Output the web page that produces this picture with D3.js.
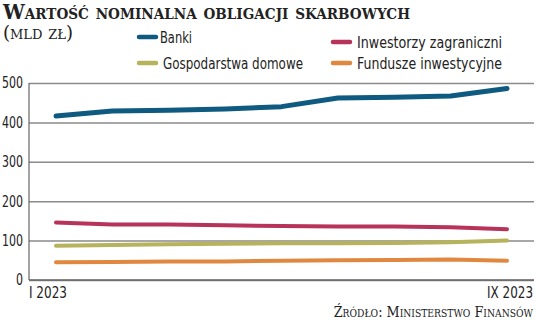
<!DOCTYPE html>
<html>
<head>
<meta charset="utf-8">
<script src="https://cdn.jsdelivr.net/npm/d3@7"></script>
<style>
  html, body { margin: 0; padding: 0; background: #fff; }
  svg { display: block; }
  .serif { font-family: "DejaVu Serif", "Liberation Serif", serif; font-variant: small-caps; }
  .cond { font-family: "DejaVu Sans Condensed", "Liberation Sans Narrow", sans-serif; }
</style>
</head>
<body>
<svg id="chart" width="536" height="322"></svg>
<script>
// Months January..September 2023
const months = ["I", "II", "III", "IV", "V", "VI", "VII", "VIII", "IX"];
const banki = [416, 429, 431, 434, 440, 462, 464, 467, 486];
const inwestorzy = [146, 141, 141, 139, 137, 136, 136, 134, 129];
const gospodarstwa = [87, 89, 91, 92, 93, 93, 94, 96, 100];
const fundusze = [45, 46, 47, 47, 49, 50, 51, 52, 49];
const yTicks = [0, 100, 200, 300, 400, 500];
const xLabels = ["I 2023", "IX 2023"];

const seriesNames = ["Banki", "Inwestorzy zagraniczni", "Gospodarstwa domowe", "Fundusze inwestycyjne"];
const seriesColors = ["#0f5a80", "#b8335a", "#b6b35c", "#e0883f"];
const seriesData = [banki, inwestorzy, gospodarstwa, fundusze];

const svg = d3.select("#chart");
const plot = { left: 29, right: 534, top: 83, bottom: 280 };

const x = d3.scalePoint().domain(months).range([56, 507]);
const y = d3.scaleLinear().domain([0, 500]).range([plot.bottom, plot.top]);

// Right-aligned text squeezed horizontally to a given width
function squeezedRight(xr, yb, width, cls, size, str) {
  const g = svg.append("g");
  const t = g.append("text").attr("class", cls)
    .attr("font-size", size).attr("fill", "#222")
    .attr("text-anchor", "end").text(str);
  const natural = t.node().getComputedTextLength();
  g.attr("transform", `translate(${xr},${yb}) scale(${width / natural},1)`);
  return t;
}

// Title and unit
svg.append("text").attr("class", "serif")
  .attr("x", 3).attr("y", 19)
  .attr("font-size", 20).attr("font-weight", "bold").attr("fill", "#222")
  .attr("textLength", 407).attr("lengthAdjust", "spacingAndGlyphs")
  .text("Wartość nominalna obligacji skarbowych");
svg.append("text").attr("class", "serif")
  .attr("x", 3).attr("y", 39)
  .attr("font-size", 18).attr("fill", "#222")
  .attr("textLength", 70).attr("lengthAdjust", "spacingAndGlyphs")
  .text("(mld zł)");

// Legend
const legendPos = [
  { sx: 139, sy: 37, tx: 160, w: 32 },
  { sx: 333, sy: 42, tx: 357, w: 145 },
  { sx: 139, sy: 63, tx: 163, w: 140 },
  { sx: 333, sy: 63, tx: 357, w: 145 }
];
seriesNames.forEach((name, i) => {
  const p = legendPos[i];
  svg.append("line")
    .attr("x1", p.sx).attr("x2", p.sx + 17)
    .attr("y1", p.sy).attr("y2", p.sy)
    .attr("stroke", seriesColors[i]).attr("stroke-width", 4.5)
    .attr("stroke-linecap", "round");
  svg.append("text").attr("class", "cond")
    .attr("x", p.tx).attr("y", p.sy + 6)
    .attr("font-size", 16.5).attr("fill", "#222")
    .attr("textLength", p.w).attr("lengthAdjust", "spacingAndGlyphs")
    .text(name);
});

// Gridlines and y axis
const yAxis = d3.axisLeft(y).tickValues(yTicks).tickSize(plot.left - plot.right).tickPadding(6);
const gy = svg.append("g").attr("transform", `translate(${plot.left},0)`).call(yAxis);
gy.select(".domain").remove();
gy.selectAll(".tick line").attr("stroke", "#8a8a8a").attr("stroke-width", 1.5);
gy.selectAll(".tick text")
  .attr("class", "cond").attr("font-size", 15).attr("fill", "#222")
  .attr("x", -6).attr("text-anchor", "end")
  .attr("textLength", d => d === 0 ? 7 : 21).attr("lengthAdjust", "spacingAndGlyphs");

// Axis lines
svg.append("line").attr("x1", plot.left).attr("x2", plot.left).attr("y1", plot.top).attr("y2", plot.bottom)
  .attr("stroke", "#666").attr("stroke-width", 1.2);
svg.append("line").attr("x1", plot.left).attr("x2", plot.right).attr("y1", plot.bottom).attr("y2", plot.bottom)
  .attr("stroke", "#666").attr("stroke-width", 1.5);

// Lines
const line = d3.line().x((d, i) => x(months[i])).y(d => y(d));
seriesData.forEach((vals, i) => {
  svg.append("path").datum(vals)
    .attr("d", line)
    .attr("fill", "none")
    .attr("stroke", seriesColors[i])
    .attr("stroke-width", i === 0 ? 5 : 4)
    .attr("stroke-linecap", "round")
    .attr("stroke-linejoin", "round");
});

// X labels
svg.append("text").attr("class", "cond")
  .attr("x", 29).attr("y", 298).attr("font-size", 16).attr("fill", "#222")
  .attr("textLength", 38).attr("lengthAdjust", "spacingAndGlyphs")
  .text(xLabels[0]);
squeezedRight(533, 298, 46, "cond", 16, xLabels[1]);

// Source
squeezedRight(533, 317, 203, "serif", 15, "Źródło: Ministerstwo Finansów");
</script>
</body>
</html>
